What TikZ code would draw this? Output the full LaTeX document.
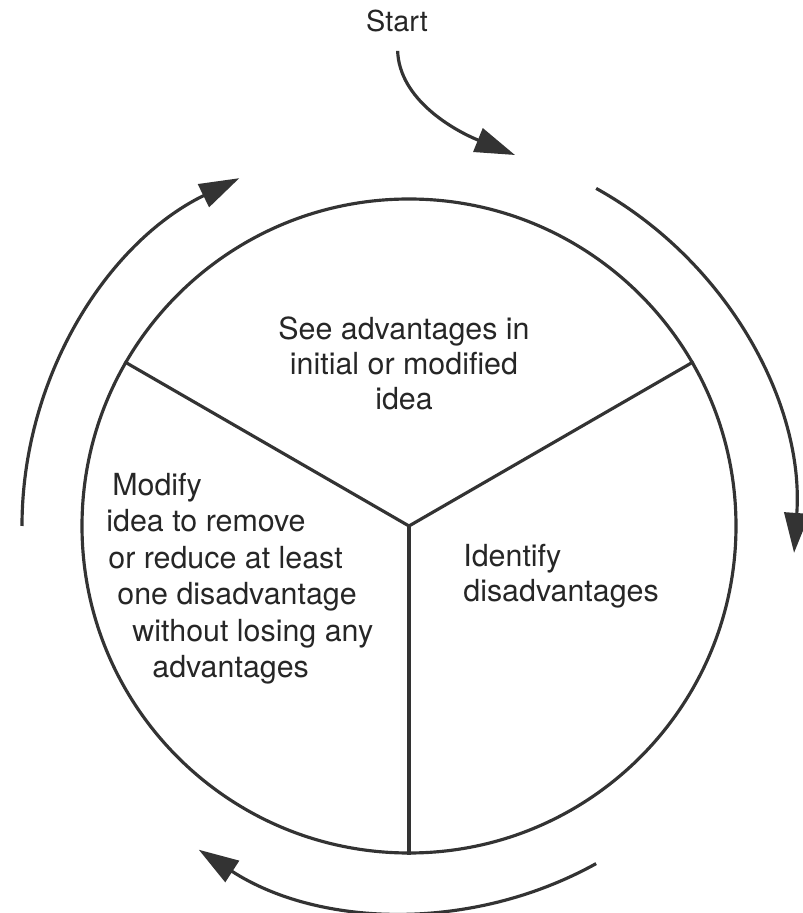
\documentclass[tikz,border=0pt]{standalone}
\usepackage{fontspec}
\setmainfont{TeX Gyre Heros}
\usetikzlibrary{arrows.meta}

\begin{document}
\begin{tikzpicture}[
    ink/.style={draw=black!80, line width=1.8pt},
    cyclearrow/.style={ink, -{Triangle[length=0.8cm, width=0.5cm]}},
    steptext/.style={font=\fontsize{17.3}{20.2}\selectfont, text=black!85, inner sep=0pt}
    ]

    \useasboundingbox (0,0) rectangle (16.06,18.26);

    % the wheel with its three sectors
    \node[ink, circle, minimum size=13.08cm, inner sep=0pt] (wheel) at (8.18,7.74) {};
    \draw[ink] (wheel.center) -- (wheel.30);
    \draw[ink] (wheel.center) -- (wheel.150);
    \draw[ink] (wheel.center) -- (wheel.270);

    % sector texts (base = last line)
    \node[steptext, align=center, anchor=base] (see) at (8.08,10.06) {See advantages in\\initial or modified\\idea};
    \node[steptext, align=left, anchor=base west] (identify) at (9.26,6.22) {Identify\\disadvantages};
    \node[steptext, align=left, anchor=base west,
          font=\fontsize{17.3}{20.8}\selectfont] (modify) at (2.12,4.70)
        {\hspace*{0.12cm}Modify\\idea to remove\\\hspace*{0.04cm}or reduce at least\\\hspace*{0.22cm}one disadvantage\\\hspace*{0.52cm}without losing any\\\hspace*{0.92cm}advantages};

    % start
    \node[steptext, font=\fontsize{16.4}{20}\selectfont, anchor=base] (start) at (7.94,17.62) {Start};
    \coordinate (entry) at (10.3,15.16);
    \draw[cyclearrow, shorten <=0.36cm] (start.south) to[out=-88, in=158] (entry);

    % arrows round the wheel
    \draw[cyclearrow] ([shift={(61:7.72)}]wheel.center) arc[start angle=61, end angle=-4, radius=7.72];
    \draw[cyclearrow] ([shift={(299:7.72)}]wheel.center) arc[start angle=299, end angle=237, radius=7.72];
    \draw[cyclearrow] ([shift={(180:7.74)}]wheel.center) arc[start angle=180, end angle=116, radius=7.74];

\end{tikzpicture}
\end{document}
